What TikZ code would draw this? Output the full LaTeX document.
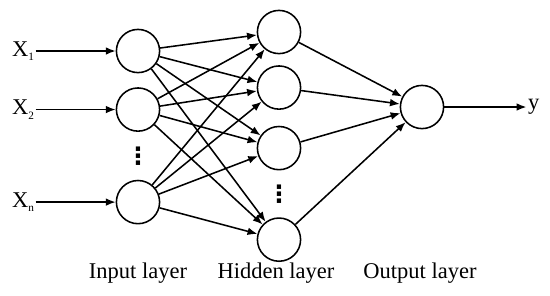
\documentclass[tikz,border=0pt]{standalone}
\usepackage{fontspec}
\setmainfont{Liberation Serif}
\newfontfamily\dotsfont{DejaVu Sans}
\usepackage{tikz}
\usetikzlibrary{arrows.meta, positioning, calc}

\newcommand{\sub}[1]{\raisebox{-0.45ex}{\fontsize{8}{9}\selectfont #1}}

\begin{document}
\begin{tikzpicture}[
    font=\fontsize{16}{19}\selectfont,
    node distance=0.35cm and 2cm,
    neuron/.style={draw, circle, line width=1.1pt, minimum size=1.08cm, inner sep=0pt},
    signal/.style={inner sep=1pt},
    layername/.style={inner sep=1pt},
    dotsnode/.style={inner sep=0pt, font=\fontsize{17}{19}\dotsfont\bfseries},
    arrow/.style={-{Latex[length=7pt, width=5.5pt]}, line width=1.1pt}
]
\useasboundingbox (0,0) rectangle (13.75,7.375);

% Input layer
\node[neuron] (in1) at (3.45,6.1) {};
\node[neuron, below=0.345cm of in1] (in2) {};
\node[neuron, below=1.195cm of in2] (inn) {};
\node[dotsnode] at ($(in2)!0.5!(inn)$) (indots) {⋮};

% Hidden layer
\node[neuron] (h1) at (6.975,6.575) {};
\node[neuron, below=0.27cm of h1] (h2) {};
\node[neuron, below=0.395cm of h2] (h3) {};
\node[neuron, below=1.17cm of h3] (h4) {};
\node[dotsnode] at ($(h3)!0.5!(h4)$) (hdots) {⋮};

% Output layer
\node[neuron] (out) at (10.55,4.7) {};

% Inputs and output
\node[signal, left=of in1] (x1) {X\sub{1}};
\node[signal, left=of in2] (x2) {X\sub{2}};
\node[signal, left=of inn] (xn) {X\sub{n}};
\node[signal, right=2.05cm of out] (y) {y};

% Layer names
\node[layername] at (3.45,0.55) (inname) {Input layer};
\node[layername] at (6.9,0.55) (hname) {Hidden layer};
\node[layername] at (10.5,0.55) (outname) {Output layer};

% Arrows
\draw[arrow] (x1) -- (in1);
\draw[arrow] (x2) -- (in2);
\draw[arrow] (xn) -- (inn);
\draw[arrow] (in1) -- (h1);
\draw[arrow] (in1) -- (h2);
\draw[arrow] (in1) -- (h3);
\draw[arrow] (in1) -- (h4);
\draw[arrow] (in2) -- (h1);
\draw[arrow] (in2) -- (h2);
\draw[arrow] (in2) -- (h3);
\draw[arrow] (in2) -- (h4);
\draw[arrow] (inn) -- (h1);
\draw[arrow] (inn) -- (h2);
\draw[arrow] (inn) -- (h3);
\draw[arrow] (inn) -- (h4);
\draw[arrow] (h1) -- (out);
\draw[arrow] (h2) -- (out);
\draw[arrow] (h3) -- (out);
\draw[arrow] (h4) -- (out);
\draw[arrow] (out) -- (y);
\end{tikzpicture}
\end{document}
